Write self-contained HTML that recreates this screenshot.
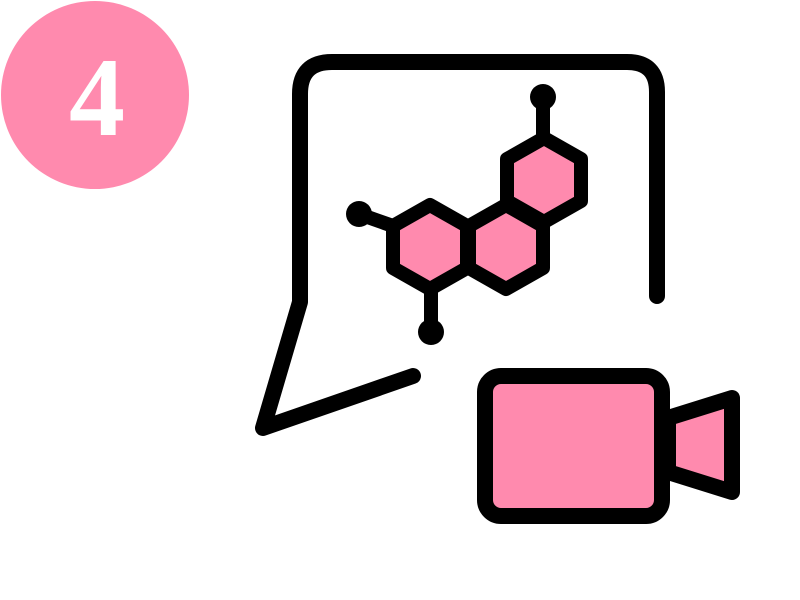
<!DOCTYPE html>
<html><head><style>html,body{margin:0;padding:0;background:#fff;width:800px;height:600px;overflow:hidden;position:relative}
.n{position:absolute;left:0;top:28px;width:194px;text-align:center;color:#fff;font-family:"Liberation Serif","DejaVu Serif",Georgia,serif;font-weight:bold;font-size:112px;line-height:140px}
svg{position:absolute;left:0;top:0}</style></head>
<body>
<svg width="800" height="600" viewBox="0 0 800 600" xmlns="http://www.w3.org/2000/svg">
<circle cx="95" cy="95" r="94" fill="#FF8AAE"/>
<g fill="none" stroke="#000" stroke-width="16" stroke-linecap="round" stroke-linejoin="round">
<path d="M657 296 V92 Q657 62 627 62 H332 Q300 62 300 94 V302 L263 428 L413 376"/>
</g>
<g stroke="#000" stroke-width="14" stroke-linejoin="round" fill="#FF8AAE">
<line x1="543" y1="97" x2="543" y2="140"/>
<line x1="359" y1="214" x2="393" y2="226"/>
<line x1="431" y1="290" x2="431" y2="332"/>
<polygon points="430,205 467,226 467,268 430,289 393,268 393,226"/>
<polygon points="506,205 543,226 543,268 506,289 469,268 469,226"/>
<polygon points="544,138 581,159 581,201 544,222 507,201 507,159"/>
</g>
<circle cx="543" cy="97" r="13" fill="#000"/>
<circle cx="359" cy="214" r="13" fill="#000"/>
<circle cx="431" cy="332" r="13" fill="#000"/>
<g stroke="#000" stroke-width="16" stroke-linejoin="round" fill="#FF8AAE">
<rect x="485" y="376" width="177" height="140" rx="16"/>
<polygon points="668,418 732,398 732,492 668,472"/>
</g>
</svg>
<div class="n">4</div>
</body></html>
